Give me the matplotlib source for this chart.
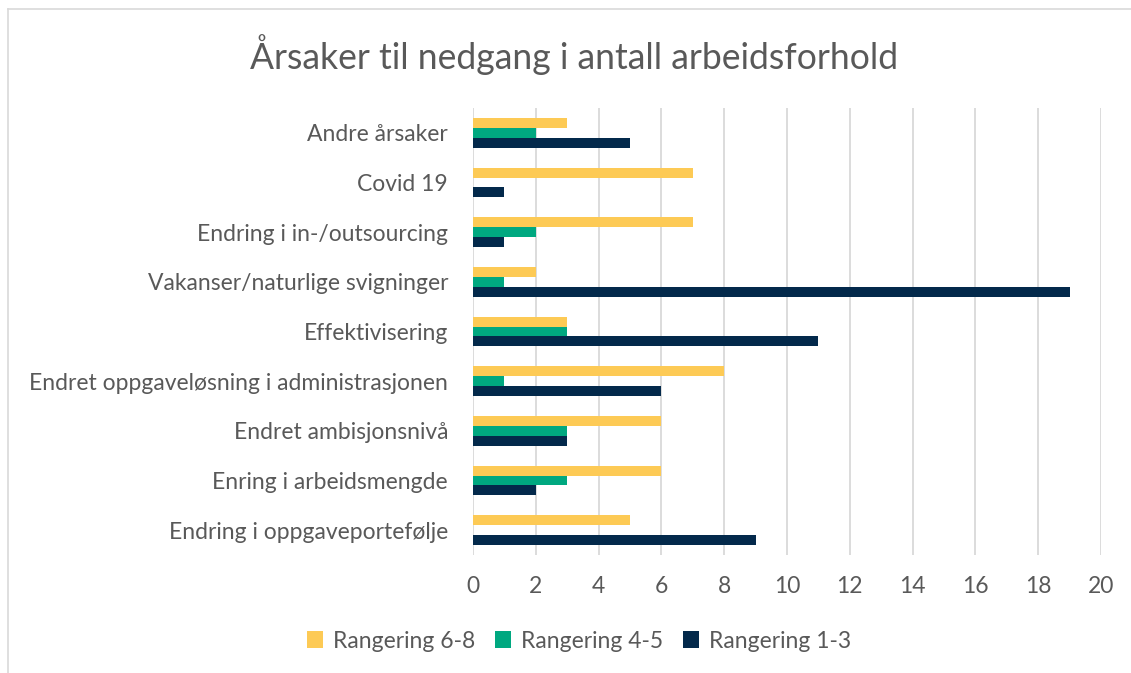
import matplotlib.pyplot as plt
from matplotlib.lines import Line2D
import numpy as np

plt.rcParams['font.family'] = ['Lato', 'DejaVu Sans']

categories = ['Andre årsaker', 'Covid 19', 'Endring i in-/outsourcing',
              'Vakanser/naturlige svigninger', 'Effektivisering',
              'Endret oppgaveløsning i administrasjonen', 'Endret ambisjonsnivå',
              'Enring i arbeidsmengde', 'Endring i oppgaveportefølje']
rang_6_8 = [3, 7, 7, 2, 3, 8, 6, 6, 5]
rang_4_5 = [2, 0, 2, 1, 3, 1, 3, 3, 0]
rang_1_3 = [5, 1, 1, 19, 11, 6, 3, 2, 9]
series_names = ['Rangering 6-8', 'Rangering 4-5', 'Rangering 1-3']
colors = ['#FDCA55', '#00A880', '#03294B']
text_col = '#595959'

fig = plt.figure(figsize=(11.31, 6.73), dpi=100)
ax = fig.add_axes([473/1131, 1-555/673, 628/1131, 447/673])

y = np.arange(len(categories))
h = 0.2
for i, (vals, name, c) in enumerate(zip([rang_6_8, rang_4_5, rang_1_3], series_names, colors)):
    ax.barh(y + (i - 1) * h, vals, height=h, color=c, label=name, zorder=3)

ax.set_xlim(0, 20)
ax.set_ylim(len(categories) - 0.5, -0.5)
ax.set_xticks(range(0, 21, 2))
ax.set_yticks(y)
ax.set_yticklabels(categories)
ax.tick_params(axis='both', length=0, labelsize=16.5, colors=text_col)
ax.tick_params(axis='x', pad=15)
ax.tick_params(axis='y', pad=18)
ax.grid(axis='x', color='#D9D9D9', linewidth=1.3, zorder=0)
for s in ax.spines.values():
    s.set_visible(False)

fig.text(574/1131, 1 - 55/673, 'Årsaker til nedgang i antall arbeidsforhold',
         ha='center', va='center', fontsize=25.6, color=text_col)

leg = fig.legend(loc='center', bbox_to_anchor=(579/1131, 1 - 641/673), ncol=3,
                 frameon=False, fontsize=16.5, handlelength=0.7, handleheight=0.7,
                 columnspacing=0.9, handletextpad=0.4)
for t in leg.get_texts():
    t.set_color(text_col)

# chart border
fig.add_artist(Line2D([8/1131, 1], [1 - 9/673, 1 - 9/673], color='#D9D9D9', lw=1.2))
fig.add_artist(Line2D([8/1131, 8/1131], [0, 1 - 9/673], color='#D9D9D9', lw=1.2))

fig.savefig('out.png', dpi=100)
